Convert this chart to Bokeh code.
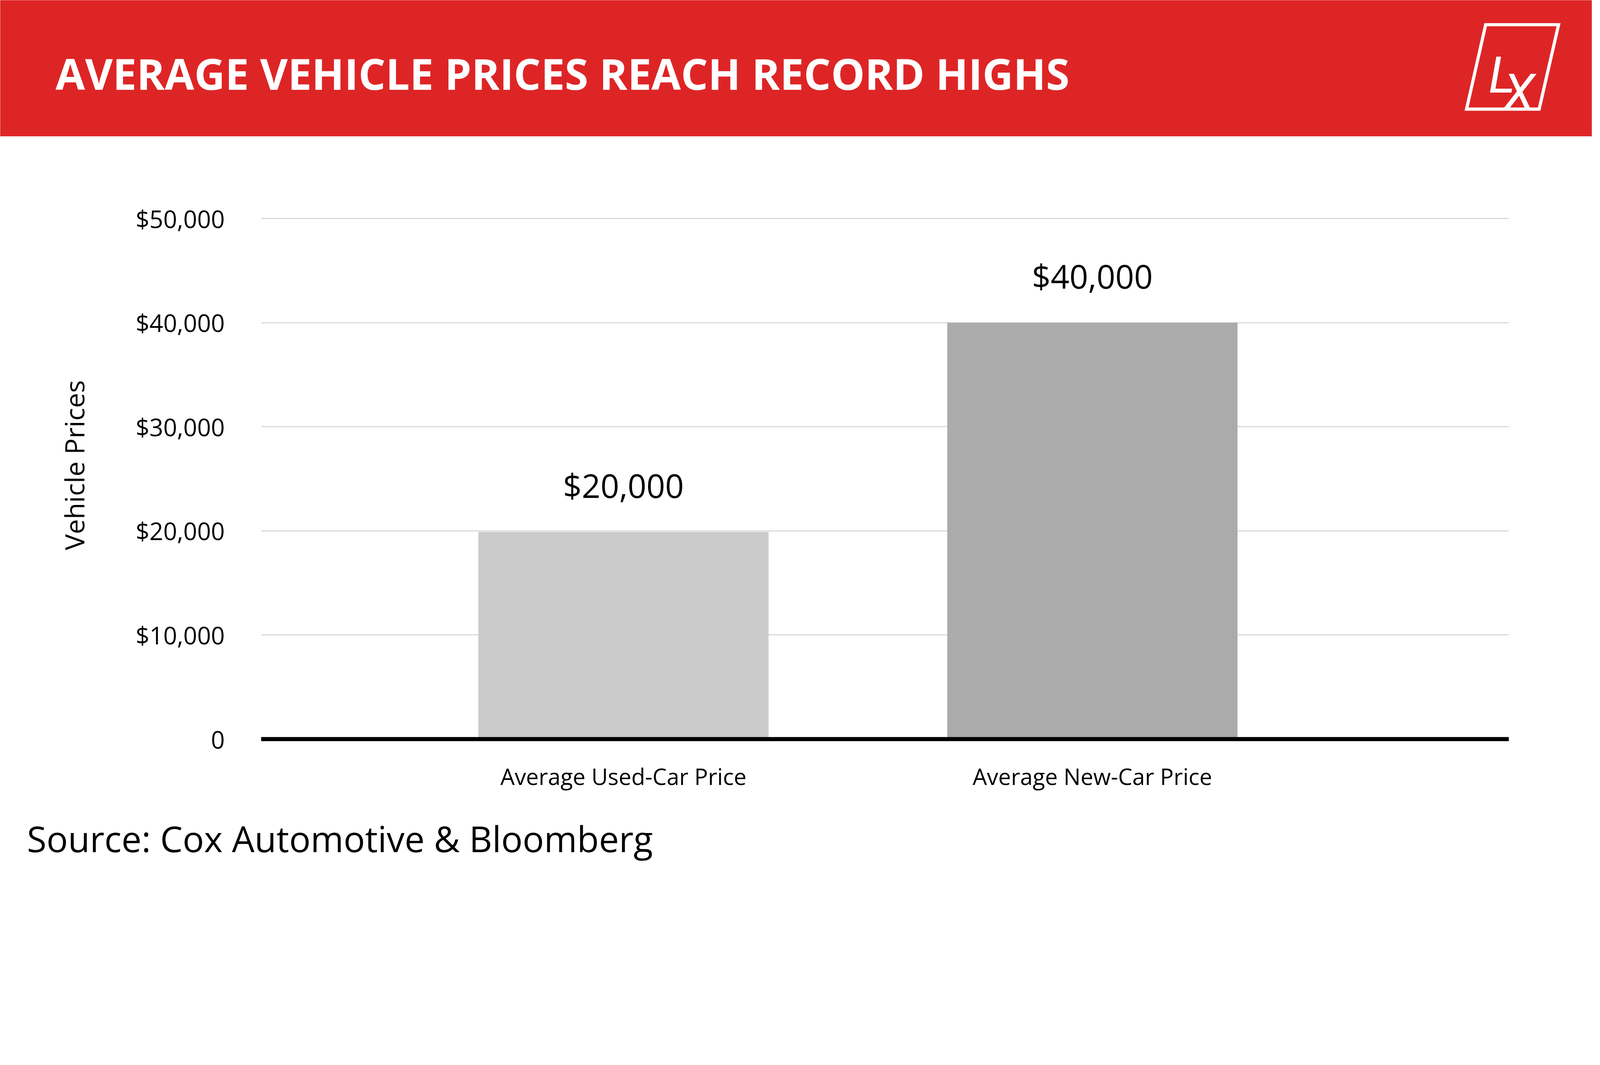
from bokeh.plotting import figure
from bokeh.layouts import column
from bokeh.models import Range1d, FixedTicker, ColumnDataSource
from bokeh.core.properties import value
from bokeh.embed import file_html
from bokeh.resources import INLINE

# ---------------- data ----------------
TITLE = "AVERAGE VEHICLE PRICES REACH RECORD HIGHS"
CATEGORIES = ["Average Used-Car Price", "Average New-Car Price"]
PRICES = [19900, 40000]
PRICE_LABELS = ["$20,000", "$40,000"]
BAR_COLORS = ["#cbcbcb", "#ababab"]
Y_TICKS = [0, 10000, 20000, 30000, 40000, 50000]
Y_TICK_LABELS = ["0", "$10,000", "$20,000", "$30,000", "$40,000", "$50,000"]
Y_TITLE = "Vehicle Prices"
SOURCE_NOTE = "Source: Cox Automotive & Bloomberg"
LOGO_LETTERS = ["L", "X"]

# ---------------- style / layout (design units, scaled to screen px by S) ----------------
S = 0.815
RED = "#de2526"
FONT = "Open Sans"
DW = 5000                          # design width
HEAD_H, MAIN_H, FOOT_H = 428, 2112, 187
FR_L, FR_R, FR_T, FR_B = 820, 4739, 600, 2321   # plot frame in design units (page coords)


def px(v):
    return int(round(v * S))


def fs(v):
    return f"{v * S:.1f}px"


W = px(DW)

# ---------------- header ----------------
header = figure(width=W, height=px(HEAD_H), x_range=Range1d(0, DW), y_range=Range1d(0, HEAD_H),
                x_axis_type=None, y_axis_type=None, output_backend="svg",
                toolbar_location=None, min_border=0, outline_line_color=None,
                background_fill_color=RED, border_fill_color=RED, frame_align=False)
header.grid.visible = False
header.text(x=[174], y=[HEAD_H - 229], text=[TITLE], text_font=value(FONT),
            text_font_style="bold", text_font_size=fs(134), text_color="white",
            text_align="left", text_baseline="middle")
# logo frame (parallelogram)
header.patch(x=[4666, 4895, 4834, 4606], y=[HEAD_H - 77, HEAD_H - 77, HEAD_H - 342, HEAD_H - 342],
             fill_color=None, line_color="white", line_width=10 * S, line_join="miter")
header.text(x=[4717, 4771], y=[HEAD_H - 235, HEAD_H - 290], text=LOGO_LETTERS,
            text_font=value("Roboto"), text_font_style="italic", text_font_size=fs(160),
            text_color="white", text_align="center", text_baseline="alphabetic")

# ---------------- main chart ----------------
xs = list(range(len(CATEGORIES)))
src = ColumnDataSource(dict(x=xs, top=PRICES, color=BAR_COLORS, label=PRICE_LABELS))

bl = px(FR_L)
fw = px(FR_R - FR_L)
bt = px(FR_T - HEAD_H)
fh = px(FR_B - FR_T)
mh = px(MAIN_H)
p = figure(width=W, height=mh, x_range=Range1d(-0.7726, 1.888), y_range=Range1d(0, 52630),
           output_backend="svg", toolbar_location=None, outline_line_color=None,
           min_border_left=bl, min_border_right=W - bl - fw, min_border_top=bt,
           min_border_bottom=mh - bt - fh, frame_align=False)

p.vbar(x="x", top="top", bottom=0, width=0.619, fill_color="color", line_color=None, source=src)
p.text(x="x", y="top", text="label", y_offset=-147 * S, text_align="center",
       text_baseline="middle", text_font=value(FONT), text_font_size=fs(103),
       text_color="black", source=src)

p.xgrid.visible = False
p.ygrid.grid_line_color = "#d4d4d4"
p.ygrid.grid_line_width = 3 * S
p.ygrid.ticker = FixedTicker(ticks=Y_TICKS)

p.yaxis.ticker = FixedTicker(ticks=Y_TICKS)
p.yaxis.major_label_overrides = {t: l for t, l in zip(Y_TICKS, Y_TICK_LABELS)}
p.yaxis.axis_line_color = None
p.yaxis.major_tick_line_color = None
p.yaxis.minor_tick_line_color = None
p.yaxis.major_tick_out = 0
p.yaxis.major_tick_in = 0
p.yaxis.major_label_standoff = px(114)
p.yaxis.major_label_text_font = FONT
p.yaxis.major_label_text_font_size = fs(76)
p.yaxis.major_label_text_color = "black"
p.yaxis.axis_label = Y_TITLE
p.yaxis.axis_label_text_font = FONT
p.yaxis.axis_label_text_font_size = fs(84)
p.yaxis.axis_label_text_font_style = "normal"
p.yaxis.axis_label_text_color = "black"
p.yaxis.axis_label_standoff = px(132)

p.xaxis.ticker = FixedTicker(ticks=xs)
p.xaxis.major_label_overrides = {i: c for i, c in zip(xs, CATEGORIES)}
p.xaxis.axis_line_color = "black"
p.xaxis.axis_line_width = 13 * S
p.xaxis.major_tick_line_color = None
p.xaxis.minor_tick_line_color = None
p.xaxis.major_tick_out = 0
p.xaxis.major_tick_in = 0
p.xaxis.major_label_standoff = px(68)
p.xaxis.major_label_text_font = FONT
p.xaxis.major_label_text_font_size = fs(71)
p.xaxis.major_label_text_color = "black"

# ---------------- footer ----------------
footer = figure(width=W, height=px(FOOT_H), x_range=Range1d(0, DW), y_range=Range1d(0, FOOT_H),
                x_axis_type=None, y_axis_type=None, output_backend="svg",
                toolbar_location=None, min_border=0, outline_line_color=None, frame_align=False)
footer.grid.visible = False
footer.text(x=[84], y=[FOOT_H - (2634 - 2540)], text=[SOURCE_NOTE], text_font=value(FONT),
            text_font_size=fs(112), text_color="black", text_align="left",
            text_baseline="middle")

layout = column(header, p, footer, spacing=0)
open("out.html", "w").write(file_html(layout, INLINE))
